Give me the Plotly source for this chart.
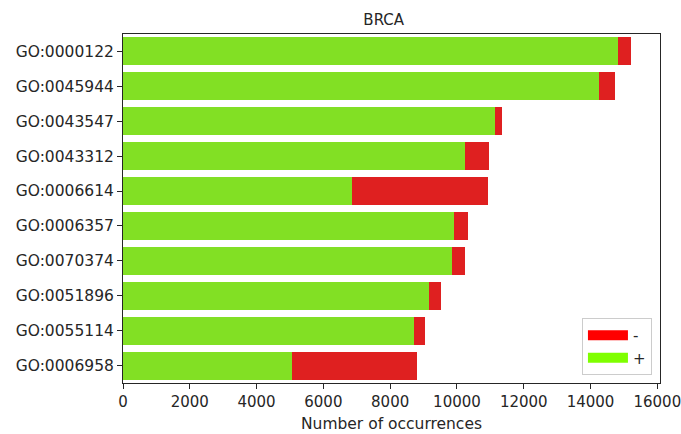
import plotly.graph_objects as go

categories = ["GO:0000122", "GO:0045944", "GO:0043547", "GO:0043312", "GO:0006614",
              "GO:0006357", "GO:0070374", "GO:0051896", "GO:0055114", "GO:0006958"]
plus_counts = [14830, 14253, 11153, 10250, 6853, 9913, 9863, 9148, 8710, 5075]
minus_counts = [376, 477, 191, 715, 4062, 427, 387, 387, 340, 3731]
x_ticks = [0, 2000, 4000, 6000, 8000, 10000, 12000, 14000, 16000]
x_tick_labels = [str(v) for v in x_ticks]

GREEN = "#82e024"
RED = "#df2020"
FONT = "DejaVu Sans"
TXT = "#262626"

fig = go.Figure()
fig.add_trace(go.Bar(y=categories, x=plus_counts, orientation="h", name="+",
                     marker=dict(color=GREEN, line=dict(width=0)), width=0.8, showlegend=False))
fig.add_trace(go.Bar(y=categories, x=minus_counts, orientation="h", name="-",
                     marker=dict(color=RED, line=dict(width=0)), width=0.8, showlegend=False))
# legend proxies (wide line symbols imitate matplotlib rectangle patches)
fig.add_trace(go.Scatter(x=[None], y=[None], mode="lines", name="-",
                         line=dict(color="#ff0000", width=13), showlegend=True))
fig.add_trace(go.Scatter(x=[None], y=[None], mode="lines", name="+",
                         line=dict(color="#7fff00", width=13), showlegend=True))

fig.update_layout(
    barmode="stack",
    width=681, height=434,
    margin=dict(l=123, r=21, t=34, b=51, autoexpand=False),
    paper_bgcolor="white", plot_bgcolor="white",
    font=dict(family=FONT, size=15, color=TXT),
    title=dict(text="BRCA", x=0.4855, xanchor="center", xref="paper",
               y=1, yref="paper", yanchor="bottom", pad=dict(b=9),
               font=dict(size=15, color=TXT)),
    bargap=0.2,
    legend=dict(x=0.985, y=0.023, xanchor="right", yanchor="bottom",
                bordercolor="#cccccc", borderwidth=1, bgcolor="white",
                traceorder="normal", font=dict(size=15), itemwidth=40),
    xaxis=dict(range=[0, 16080], tickvals=x_ticks, ticktext=x_tick_labels,
               ticks="outside", ticklen=5, automargin=False, ticklabeloverflow="allow",
               tickcolor=TXT, showgrid=False, zeroline=False,
               showline=True, linecolor=TXT, linewidth=1, mirror=True,
               tickfont=dict(size=15),
               title=dict(text="Number of occurrences", font=dict(size=15.5), standoff=8)),
    yaxis=dict(categoryorder="array", categoryarray=categories, range=[9.5, -0.5],
               ticks="outside", ticklen=5, tickcolor=TXT, showgrid=False,
               automargin=False,
               showline=True, linecolor=TXT, linewidth=1, mirror=True,
               tickfont=dict(size=15.5)),
)

fig.write_html(
    "out.html",
    config={"displayModeBar": False},
    post_script="document.body.style.margin='0';document.body.style.overflow='hidden';",
)
